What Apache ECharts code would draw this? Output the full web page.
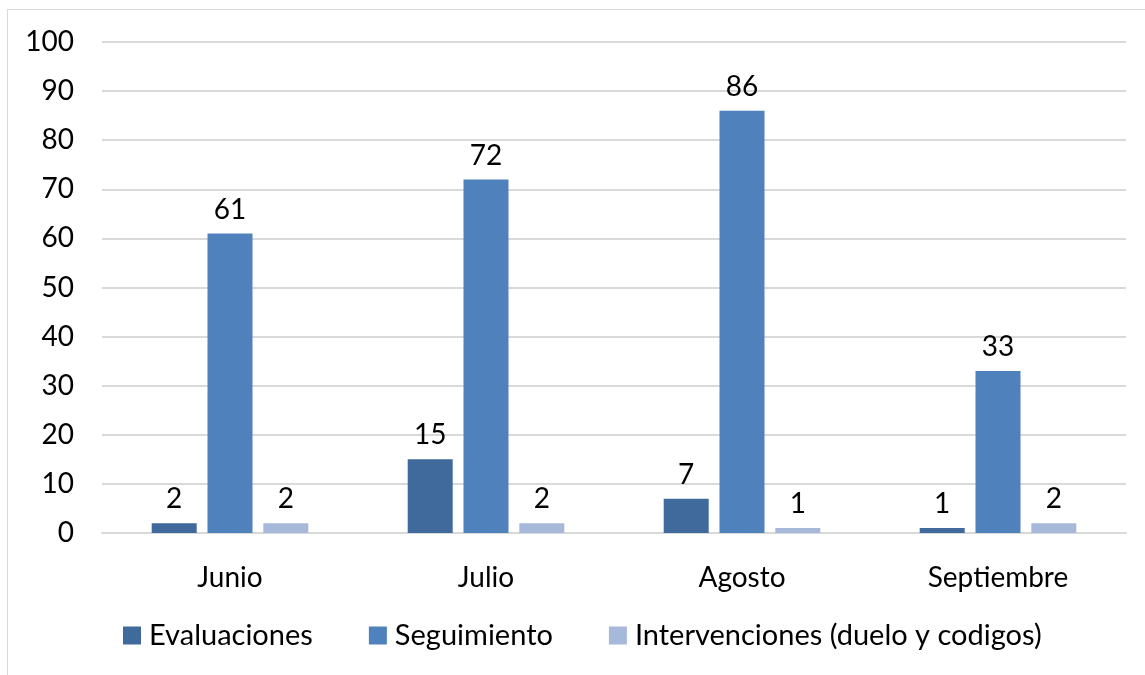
<!DOCTYPE html>
<html>
<head>
<meta charset="utf-8">
<script src="https://cdn.jsdelivr.net/npm/echarts@6/dist/echarts.min.js"></script>
<style>
html, body { margin: 0; padding: 0; background: #fff; }
#frame { position: absolute; left: 7px; top: 9px; width: 1150px; height: 670px; border: 1px solid #d9d9d9; }
#main { width: 1145px; height: 675px; position: absolute; left: 0; top: 0; }
</style>
</head>
<body>
<div id="frame"></div>
<div id="main"></div>
<script type="text/javascript">
// datos del grafico
var meses = ['Junio', 'Julio', 'Agosto', 'Septiembre'];
var evaluaciones = [2, 15, 7, 1];
var seguimiento = [61, 72, 86, 33];
var intervenciones = [2, 2, 1, 2];

var fuente = 'Lato';
var tam = 28;
var chart = echarts.init(document.getElementById('main'));

function serie(nombre, datos, color) {
	return {
		name: nombre,
		type: 'bar',
		data: datos,
		barWidth: 45,
		barGap: '24%',
		itemStyle: { color: color },
		label: {
			show: true,
			position: 'top',
			distance: 10,
			color: '#000',
			fontFamily: fuente,
			fontSize: tam
		}
	};
}

chart.setOption({
	animation: false,
	grid: { left: 102, right: 19, top: 42, bottom: 142, containLabel: false },
	legend: {
		bottom: 20,
		left: 118,
		itemWidth: 18,
		itemHeight: 18,
		itemGap: 56,
		icon: 'rect',
		textStyle: { fontFamily: fuente, fontSize: 29, color: '#000', padding: [0, 0, 0, 3] },
		data: ['Evaluaciones', 'Seguimiento', 'Intervenciones (duelo y codigos)']
	},
	xAxis: {
		type: 'category',
		data: meses,
		axisTick: { show: false },
		axisLine: { lineStyle: { color: '#d9d9d9', width: 2 } },
		axisLabel: { color: '#000', fontFamily: fuente, fontSize: tam, margin: 31 }
	},
	yAxis: {
		type: 'value',
		min: 0,
		max: 100,
		interval: 10,
		axisLine: { show: false },
		axisTick: { show: false },
		splitLine: { lineStyle: { color: '#d9d9d9', width: 2 } },
		axisLabel: { color: '#000', fontFamily: fuente, fontSize: tam, margin: 28 }
	},
	series: [
		serie('Evaluaciones', evaluaciones, '#3f6a9b'),
		serie('Seguimiento', seguimiento, '#4f81bd'),
		serie('Intervenciones (duelo y codigos)', intervenciones, '#a7b9d8')
	]
});
</script>
</body>
</html>
